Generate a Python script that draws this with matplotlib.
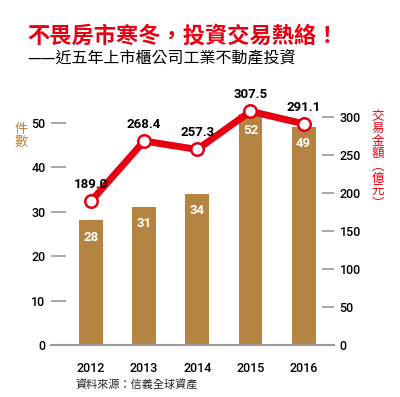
import matplotlib
matplotlib.use("Agg")
import matplotlib.pyplot as plt

plt.rcParams['font.family'] = ['Noto Sans CJK TC', 'DejaVu Sans']

years = ["2012", "2013", "2014", "2015", "2016"]
counts = [28, 31, 34, 52, 49]
amounts = [189.0, 268.4, 257.3, 307.5, 291.1]
left_ticks = [0, 10, 20, 30, 40, 50]
right_ticks = [0, 50, 100, 150, 200, 250, 300]

BROWN = "#B58441"
RED = "#E60012"
GRAY = "#9a9a9a"
NUMFONT = ["Roboto", "DejaVu Sans"]

fig = plt.figure(figsize=(4.0, 3.97), dpi=100)
ax = fig.add_axes([51/400, 52/397, 283/400, 245/397])
ax2 = ax.twinx()

x = list(range(len(years)))
ax.bar(x, counts, width=0.45, color=BROWN, zorder=2)
for xi, c in zip(x, counts):
    ax.annotate(str(c), (xi, c), xytext=(0, -12), textcoords="offset points",
                ha="center", va="center", color="white", fontsize=9.5,
                fontweight="bold", family=NUMFONT)

ax.set_xlim(-0.75, 4.57)
ax.set_ylim(0, 55.06)
ax2.set_ylim(0, 322.4)

ax2.plot(x, amounts, color=RED, lw=5, zorder=3, solid_capstyle="round",
         marker="o", markersize=9, markerfacecolor="white",
         markeredgecolor=RED, markeredgewidth=1.8)
for xi, a in zip(x, amounts):
    ax2.annotate(f"{a:.1f}", (xi, a), xytext=(0, 12), textcoords="offset points",
                 ha="center", va="center", color="black", fontsize=9.5,
                 fontweight="bold", family=NUMFONT)

for a in (ax, ax2):
    for s in ("top", "left", "right"):
        a.spines[s].set_visible(False)
ax2.spines["bottom"].set_visible(False)
ax.spines["bottom"].set_color(GRAY)
ax.spines["bottom"].set_linewidth(1.5)

ax.set_xticks(x)
ax.set_xticklabels(years, family=NUMFONT, fontsize=9, fontweight="medium")
ax.tick_params(axis="x", length=0, pad=12)

ax.set_yticks(left_ticks)
ax.set_yticklabels([str(t) for t in left_ticks], family=NUMFONT,
                   fontsize=9, fontweight="medium")
ax.tick_params(axis="y", direction="in", length=11, width=1.2, color=GRAY, pad=4)

ax2.set_yticks(right_ticks)
ax2.set_yticklabels([str(t) for t in right_ticks], family=NUMFONT,
                    fontsize=9, fontweight="medium")
ax2.tick_params(axis="y", direction="in", length=8.5, width=1.2, color=GRAY, pad=4)

fig.text(27/400, 1 - 36/397, "不畏房市寒冬，投資交易熱絡！", color=RED,
         fontsize=16, fontweight="bold", ha="left", va="center")
fig.text(27/400, 1 - 58/397, "——近五年上市櫃公司工業不動產投資", color="black",
         fontsize=11.5, fontweight="medium", ha="left", va="center")

fig.text(21/400, 1 - 136/397, "件\n數", color=BROWN, fontsize=9.5,
         ha="center", va="center", linespacing=1.0)
fig.text(378/400, 1 - 160/397, "\n".join("交易金額︵億元︶"), color=RED,
         fontsize=9, ha="center", va="center", linespacing=0.95)

fig.text(75/400, 1 - 384/397, "資料來源：信義全球資產", color="#222222",
         fontsize=8, ha="left", va="center")

fig.savefig("out.png", dpi=100, facecolor="white")
